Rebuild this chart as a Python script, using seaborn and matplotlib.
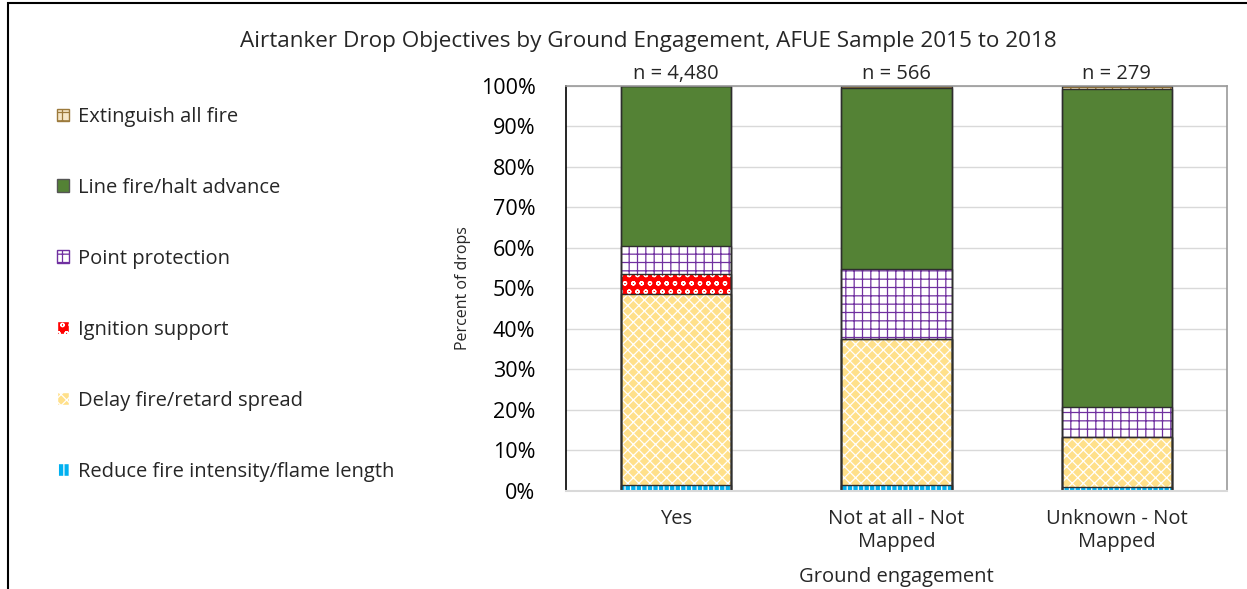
import numpy as np
import pandas as pd
import matplotlib
matplotlib.use("Agg")
import matplotlib.pyplot as plt
import matplotlib.patches as mpatches
from matplotlib.ticker import PercentFormatter
import seaborn as sns

# Data (percent of drops, stacked bottom -> top)
engagement = ["Yes", "Not at all - Not\nMapped", "Unknown - Not\nMapped"]
n_labels = ["n = 4,480", "n = 566", "n = 279"]
objectives = [
    "Reduce fire intensity/flame length",
    "Delay fire/retard spread",
    "Ignition support",
    "Point protection",
    "Line fire/halt advance",
    "Extinguish all fire",
]
reduce_pct = [1.5, 1.5, 1.0]
delay_pct = [47.1, 36.0, 12.4]
ignition_pct = [5.0, 0.0, 0.0]
point_pct = [6.9, 17.3, 7.3]
line_pct = [39.4, 44.7, 78.5]
extinguish_pct = [0.1, 0.5, 0.8]

# fill colour, hatch colour, hatch pattern per objective
styles = {
    "Reduce fire intensity/flame length": ("#00B0F0", "white", "|||"),
    "Delay fire/retard spread": ("#FFE08A", "white", "xxx"),
    "Ignition support": ("#FF0000", "white", "oo"),
    "Point protection": ("white", "#7030A0", "++"),
    "Line fire/halt advance": ("#548235", "#548235", ""),
    "Extinguish all fire": ("#F6E7C8", "#9C7A3C", "++"),
}

series = [reduce_pct, delay_pct, ignition_pct, point_pct, line_pct, extinguish_pct]
rows = []
for obj, vals in zip(objectives, series):
    for eng, v in zip(engagement, vals):
        rows.append({"engagement": eng, "objective": obj, "pct": v})
df = pd.DataFrame(rows)
df["cum"] = df.groupby("engagement", sort=False)["pct"].cumsum()

sns.set_theme(style="white")
plt.rcParams["font.family"] = ["Open Sans", "DejaVu Sans"]
plt.rcParams["hatch.linewidth"] = 0.9

fig = plt.figure(figsize=(12.47, 5.89), dpi=100)
ax = fig.add_axes([0.4539, 0.1664, 0.5301, 0.6876])

# draw cumulative bars from the top layer down so lower layers cover them
for obj in reversed(objectives):
    face, hcol, hatch = styles[obj]
    sub = df[df["objective"] == obj]
    sns.barplot(data=sub, x="engagement", y="cum", order=engagement, color=face,
                saturation=1, width=0.5, errorbar=None, ax=ax,
                edgecolor=hcol, linewidth=0, hatch=hatch)
for obj in reversed(objectives):
    sub = df[df["objective"] == obj]
    sns.barplot(data=sub, x="engagement", y="cum", order=engagement, color="#2E2E2E",
                fill=False, width=0.5, errorbar=None, ax=ax, linewidth=1.0)

ax.set_ylim(0, 100)
ax.set_yticks(np.arange(0, 101, 10))
ax.yaxis.set_major_formatter(PercentFormatter(decimals=0))
ax.yaxis.grid(True, color="#D9D9D9", linewidth=1)
ax.set_axisbelow(True)
ax.tick_params(axis="y", length=0, labelsize=15.5, pad=22, colors="black")
ax.tick_params(axis="x", length=0, labelsize=14.5, pad=13)
ax.spines["left"].set_color("black")
ax.spines["left"].set_linewidth(1.2)
ax.spines["bottom"].set_color("#D9D9D9")
ax.spines["bottom"].set_linewidth(1.5)
for s in ["top", "right"]:
    ax.spines[s].set_color("#9A9A9A")
    ax.spines[s].set_linewidth(1.2)

ax.set_xlabel("Ground engagement", fontsize=14.5, labelpad=11)
ax.set_ylabel("Percent of drops", fontsize=11.5, labelpad=7)

for i, lab in enumerate(n_labels):
    ax.text(i, 100.6, lab, ha="center", va="bottom", fontsize=14.5, clip_on=False)

fig.text(0.52, 0.929, "Airtanker Drop Objectives by Ground Engagement, AFUE Sample 2015 to 2018",
         ha="center", va="center", fontsize=16.2)

handles = []
for obj in reversed(objectives):
    face, hcol, hatch = styles[obj]
    handles.append(mpatches.Patch(facecolor=face, edgecolor=hcol if hatch else "#555555",
                                  hatch=hatch, label=obj))
fig.legend(handles=handles, loc="upper left", bbox_to_anchor=(0.039, 0.832),
           frameon=False, fontsize=14.5, handlelength=0.6, handleheight=0.6,
           handletextpad=0.45, labelspacing=2.53, borderaxespad=0)

# chart frame
fig.patches.append(mpatches.Rectangle((8 / 1247, -0.1), 1.2, 0.1 + 1 - 3 / 589,
                                      transform=fig.transFigure, fill=False,
                                      edgecolor="black", linewidth=1.5))

fig.savefig("out.png", dpi=100)
